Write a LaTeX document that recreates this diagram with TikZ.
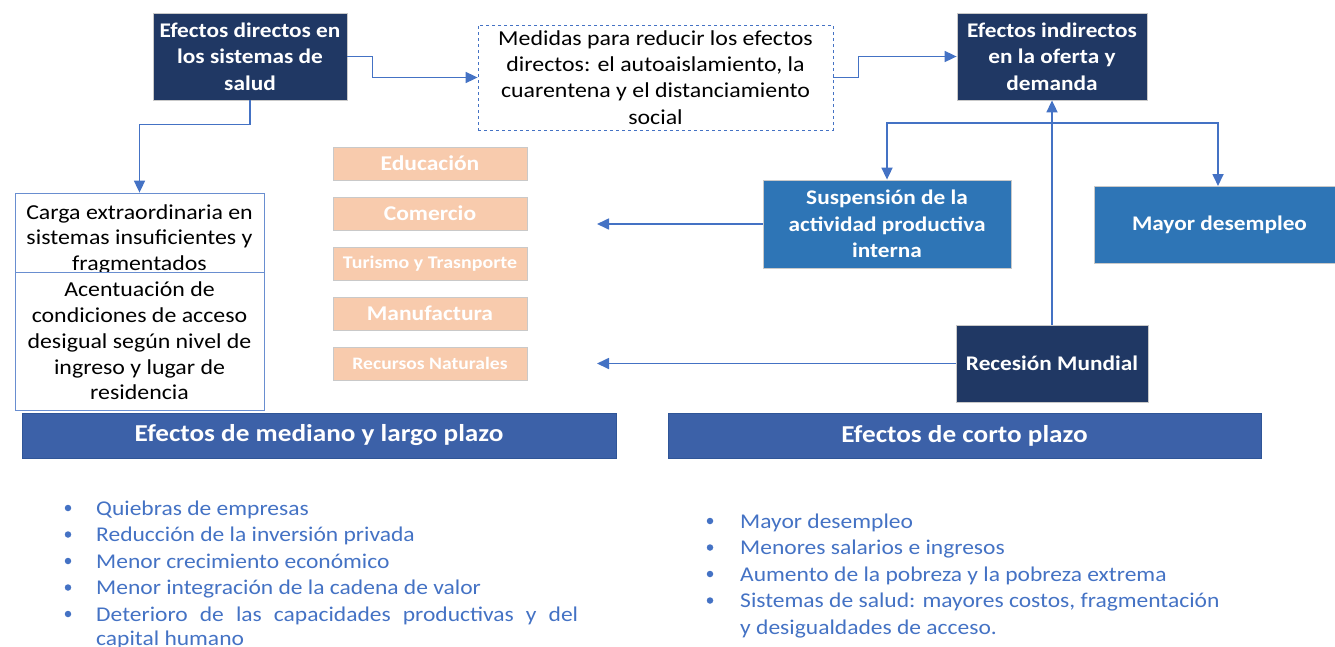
\documentclass[tikz,border=0pt]{standalone}
\usepackage{fontspec}
\setmainfont{Carlito}[FakeStretch=1.12]
\usetikzlibrary{arrows.meta}
\definecolor{navy}{HTML}{203864}
\definecolor{midblue}{HTML}{2E75B6}
\definecolor{barblue}{HTML}{3C61A8}
\definecolor{barborder}{HTML}{2F5597}
\definecolor{lineblue}{HTML}{4472C4}
\definecolor{peach}{HTML}{F8CBAD}
\definecolor{boxgray}{HTML}{C9C9C9}
\tikzset{
  navybox/.style={fill=navy, draw=boxgray, line width=0.8pt, text=white, align=center, inner sep=0pt,
    font=\bfseries\fontsize{20.8}{26.5}\selectfont},
  bluebox/.style={fill=midblue, draw=boxgray, line width=0.8pt, text=white, align=center, inner sep=0pt,
    font=\bfseries\fontsize{20.8}{26.5}\selectfont},
  whitebox/.style={fill=white, draw=lineblue!80, line width=0.8pt, text=black, align=center, inner sep=0pt,
    font=\fontsize{21.3}{25.8}\selectfont},
  plaintext/.style={inner sep=0pt, text=black, align=center, font=\fontsize{21.3}{25.5}\selectfont},
  dashbox/.style={fill=white, draw=lineblue, dashed, line width=0.8pt, text=black, align=center, inner sep=0pt,
    font=\fontsize{21.3}{26.3}\selectfont},
  peachbox/.style={fill=peach, draw=boxgray, line width=0.8pt, text=white, align=center, inner sep=0pt,
    minimum width=194pt, minimum height=33pt},
  barbox/.style={fill=barblue, draw=barborder, line width=0.8pt, text=white, inner sep=0pt,
    minimum height=45pt, font=\bfseries\fontsize{24.3}{26}\selectfont},
  arr/.style={draw=lineblue, line width=1.7pt, -{Triangle[length=12pt,width=11pt]}},
  itemtext/.style={anchor=base west, inner sep=0pt, text=lineblue, font=\fontsize{21}{26.5}\selectfont},
  dot/.style={circle, fill=lineblue, inner sep=0pt, minimum size=6.5pt},
}
\begin{document}
\begin{tikzpicture}[x=1pt,y=-1pt]
\useasboundingbox (0,0) rectangle (1335,646);
\begin{scope}
\clip (0,0) rectangle (1335,646);
% top row
\node[navybox, minimum width=194pt, minimum height=87pt] (dir) at (250,56.5) {Efectos directos en\\los sistemas de\\salud};
\node[dashbox, minimum width=355pt, minimum height=105pt] (med) at (655.5,77.5) {Medidas para reducir los efectos\\directos: el autoaislamiento, la\\cuarentena y el distanciamiento\\social};
\node[navybox, minimum width=190pt, minimum height=87pt] (ind) at (1052,56.5) {Efectos indirectos\\en la oferta y\\demanda};
% left boxes
\node[whitebox, minimum width=249pt, minimum height=79pt] (carga) at (139.5,232.5) {};
\node[plaintext] (cargaT) at (139.5,239) {Carga extraordinaria en\\sistemas insuficientes y\\fragmentados};
\node[whitebox, minimum width=249pt, minimum height=138pt] (acen) at (139.5,341) {Acentuación de\\condiciones de acceso\\desigual según nivel de\\ingreso y lugar de\\residencia};
% peach sectors
\node[peachbox, font=\bfseries\fontsize{21}{22}\selectfont] (edu) at (430,163.5) {Educación};
\node[peachbox, font=\bfseries\fontsize{21}{22}\selectfont] (com) at (430,213.5) {Comercio};
\node[peachbox, font=\bfseries\fontsize{17.8}{18}\selectfont] (tur) at (430,263.5) {Turismo y Trasnporte};
\node[peachbox, font=\bfseries\fontsize{21}{22}\selectfont] (man) at (430,313.5) {Manufactura};
\node[peachbox, font=\bfseries\fontsize{17.5}{18}\selectfont] (rec) at (430,363.5) {Recursos Naturales};
% right boxes
\node[bluebox, minimum width=248pt, minimum height=88pt] (susp) at (887,224) {Suspensión de la\\actividad productiva\\interna};
\node[bluebox, minimum width=251pt, minimum height=77pt] (may) at (1219.5,224.5) {Mayor desempleo};
\node[navybox, minimum width=192pt, minimum height=77pt] (rm) at (1052,363.5) {Recesión Mundial};
% bars
\node[barbox, minimum width=594pt] (barL) at (319,435.5) {Efectos de mediano y largo plazo};
\node[barbox, minimum width=593pt] (barR) at (964.5,435.5) {Efectos de corto plazo};
% connectors
\draw[arr] (dir.east) -- ++(25,0) |- (med.west);
\draw[arr] (med.east) -- ++(25,0) |- (ind.west);
\draw[arr] (dir.south) -- ++(0,24) -| (carga.north);
\draw[arr] (rm.north) -- (ind.south);
\coordinate (br) at (1052,123);
\draw[arr] (br) -| (susp.north);
\draw[arr] (br) -| (1218,186);
\coordinate (e1) at (597,224);
\coordinate (e2) at (597,363.5);
\draw[arr] (susp.west) -- (e1);
\draw[arr] (rm.west) -- (e2);
% left bullet list
\node[dot] (dl1) at (68,508) {};
\node[dot] (dl2) at (68,534.5) {};
\node[dot] (dl3) at (68,561) {};
\node[dot] (dl4) at (68,587.5) {};
\node[dot] (dl5) at (68,614) {};
\node[itemtext] (l1) at (96,515) {Quiebras de empresas};
\node[itemtext] (l2) at (96,541.5) {Reducción de la inversión privada};
\node[itemtext] (l3) at (96,568) {Menor crecimiento económico};
\node[itemtext] (l4) at (96,594.5) {Menor integración de la cadena de valor};
\node[itemtext] (l5) at (96,621) {\makebox[482pt][s]{Deterioro de las capacidades productivas y del}};
\node[itemtext] (l6) at (96,645) {capital humano};
% right bullet list
\node[dot] (dr1) at (710,521) {};
\node[dot] (dr2) at (710,547.5) {};
\node[dot] (dr3) at (710,574) {};
\node[dot] (dr4) at (710,600.5) {};
\node[itemtext] (r1) at (740,528) {Mayor desempleo};
\node[itemtext] (r2) at (740,554.5) {Menores salarios e ingresos};
\node[itemtext] (r3) at (740,581) {Aumento de la pobreza y la pobreza extrema};
\node[itemtext] (r4) at (740,607.5) {Sistemas de salud: mayores costos, fragmentación};
\node[itemtext] (r5) at (740,634) {y desigualdades de acceso.};
\end{scope}
\end{tikzpicture}
\end{document}
